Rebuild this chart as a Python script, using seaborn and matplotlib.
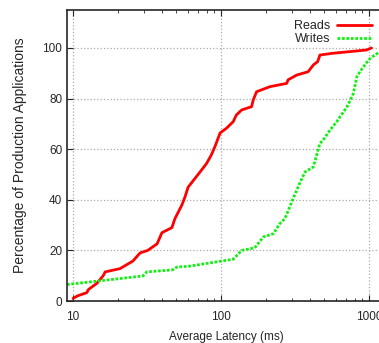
import pandas as pd
import matplotlib
matplotlib.use('Agg')
import matplotlib.pyplot as plt
import seaborn as sns

# Dados (latência em ms, percentual acumulado)
reads_lat = [10, 10.7, 12.4, 12.7, 14.5, 16, 16.5, 20.8, 25.4, 28.4, 32, 37, 39.9, 46.6, 48.8,
             54.5, 57, 60, 74, 80, 86, 91, 98.6, 109, 121, 127, 138, 161, 165, 174, 214,
             278, 284, 325, 388, 421, 450, 466, 570, 963, 1040]
reads_pct = [1, 2, 3.3, 4.5, 7, 10, 11.5, 12.8, 15.8, 19, 20, 22.6, 27, 29, 32.5,
             38, 41, 45, 51.8, 54.4, 57.7, 61, 66.4, 68.3, 70.9, 73.5, 75.5, 76.8, 79.4, 82.7, 84.7,
             86, 87.4, 89.3, 90.6, 93.3, 94.6, 97.2, 97.9, 99.2, 100]

writes_lat = [9.1, 29.7, 31.5, 47, 50.4, 62, 98.6, 121, 138, 169, 193, 226, 250, 270, 307,
              343, 370, 421, 466, 490, 546, 606, 711, 748, 784, 828, 868, 986, 1040, 1170]
writes_pct = [6.5, 9.9, 11.5, 12.3, 13.4, 13.8, 15.7, 16.5, 20, 21, 25.3, 26.6, 30.6, 32.5, 40.4,
              47, 51, 53, 62.3, 63.6, 67.6, 70.9, 76.8, 79.4, 82, 88.6, 90.6, 95, 96.3, 98.3]

df = pd.concat([
    pd.DataFrame({'lat': reads_lat, 'pct': reads_pct, 'serie': 'Reads'}),
    pd.DataFrame({'lat': writes_lat, 'pct': writes_pct, 'serie': 'Writes'}),
])

sns.set_style('ticks')
plt.rcParams['font.family'] = ['Liberation Sans', 'DejaVu Sans']

fig = plt.figure(figsize=(3.79, 3.43), dpi=100)
ax = fig.add_axes([67/379, 42/343, 318/379, 291/343])

sns.lineplot(data=df, x='lat', y='pct', hue='serie', style='serie',
             palette={'Reads': '#ff0000', 'Writes': '#11f011'},
             dashes={'Reads': '', 'Writes': (1, 0.6)},
             sort=False, estimator=None, ax=ax)
for line in ax.lines:
    line.set_linewidth(2)

ax.set_xscale('log')
ax.set_xlim(9.11, 1283)
ax.set_ylim(0, 115)
ax.set_yticks([0, 20, 40, 60, 80, 100])
ax.set_xticks([10, 100, 1000])
ax.set_xticklabels(['10', '100', '1000'])
ax.tick_params(which='both', direction='in', top=True, right=True, labelsize=8.5)
ax.tick_params(which='major', length=4)
ax.tick_params(which='minor', length=2.5)
ax.tick_params(axis='x', pad=7)
for s in ax.spines.values():
    s.set_linewidth(1.2)
ax.grid(which='major', color='#aaaaaa', linestyle=':', linewidth=0.9)

ax.set_xlabel('Average Latency (ms)', fontsize=8.5, labelpad=6)
ax.set_ylabel('Percentage of Production Applications', fontsize=10, labelpad=11)

ax.legend(loc='upper right', bbox_to_anchor=(0.99, 1.0), frameon=False, markerfirst=False,
          fontsize=9, handlelength=2.8, handletextpad=0.5, labelspacing=0.1, borderaxespad=0.4)

plt.savefig('out.png', dpi=100)
